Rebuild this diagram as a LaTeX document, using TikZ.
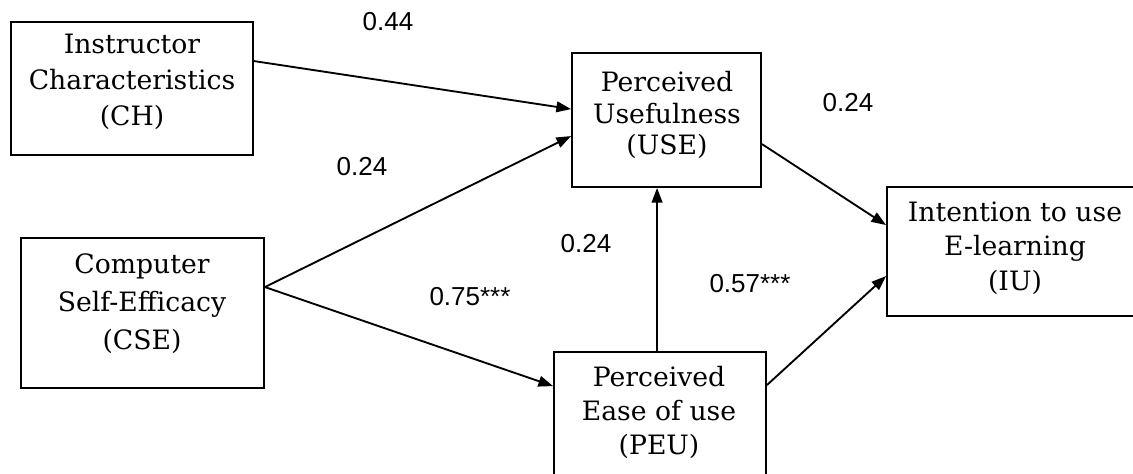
\documentclass[tikz,border=0pt]{standalone}
\usepackage{fontspec}
\setmainfont{DejaVu Serif}
\newfontfamily\lblfont{Liberation Sans}
\usetikzlibrary{arrows.meta,calc}
\tikzset{
  box/.style={draw=black, line width=1.4pt, rectangle, inner sep=0pt},
  boxtext/.style={align=center, inner sep=0pt, font=\fontsize{20}{#1}\selectfont},
  coef/.style={inner sep=0pt, font=\lblfont\fontsize{19.5}{21}\selectfont},
  conn/.style={line width=1.4pt, -{Triangle[length=11pt,width=8pt]}},
}
\begin{document}
\begin{tikzpicture}[x=0.75pt,y=-0.75pt]
\useasboundingbox (0,0) rectangle (1133,474);
% boxes
\node[box, minimum width=181.5pt, minimum height=99.75pt] (ch) at (132,88.5) {};
\node[box, minimum width=141.75pt, minimum height=100.5pt] (use) at (666.5,120) {};
\node[box, minimum width=182.25pt, minimum height=112.5pt] (cse) at (142.5,313) {};
\node[box, minimum width=159pt, minimum height=103.5pt] (peu) at (660,421) {};
\node[box, minimum width=193.5pt, minimum height=96.75pt] (iu) at (1016,251.5) {};
% box texts
\node[boxtext=27pt] (chT) at (132,82) {Instructor\\Characteristics\\(CH)};
\node[boxtext=23.6pt] (useT) at (667,115) {Perceived\\Usefulness\\(USE)};
\node[boxtext=28.5pt] (cseT) at (142,304) {Computer\\Self-Efficacy\\(CSE)};
\node[boxtext=25.5pt] (peuT) at (659,412) {Perceived\\Ease of use\\(PEU)};
\node[boxtext=26pt] (iuT) at (1015,248) {Intention to use\\E-learning\\(IU)};
% connectors
\draw[conn] ($(ch.north east)+(0,40)$) -- ($(use.north west)+(0,57)$);
\draw[conn] ($(cse.north east)+(0,50)$) -- ($(use.north west)+(0,84)$);
\draw[conn] ($(cse.north east)+(0,50)$) -- ($(peu.north west)+(0,35)$);
\draw[conn] ($(peu.north west)+(104,0)$) -- ($(use.south west)+(86,0)$);
\draw[conn] ($(use.north east)+(0,92)$) -- ($(iu.north west)+(0,39)$);
\draw[conn] ($(peu.north east)+(0,34)$) -- ($(iu.north west)+(0,90)$);
% coefficients
\node[coef] (l1) at (388,22) {0.44};
\node[coef] (l2) at (362,167) {0.24};
\node[coef] (l3) at (848,103) {0.24};
\node[coef] (l4) at (586,244) {0.24};
\node[coef] (l5) at (470,297) {0.75***};
\node[coef] (l6) at (750,284) {0.57***};
\end{tikzpicture}
\end{document}
